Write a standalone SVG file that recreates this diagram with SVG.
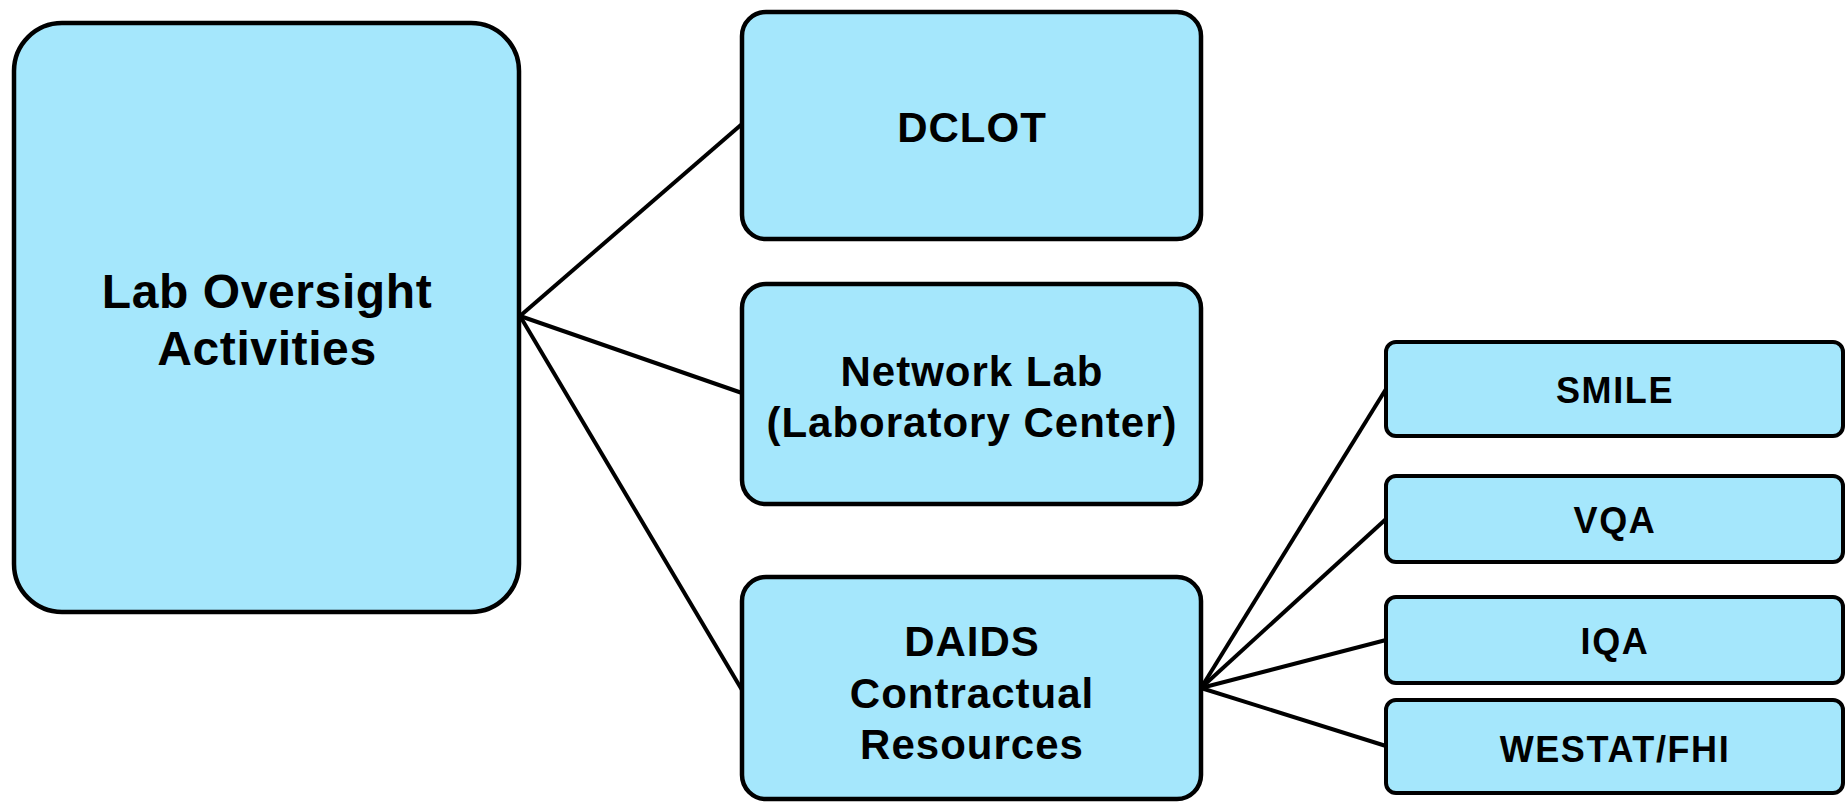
<svg xmlns="http://www.w3.org/2000/svg" width="1848" height="802" viewBox="0 0 1848 802">
<style>
.box{fill:#A5E7FC;stroke:#000;stroke-width:4.5}
.sbox{fill:#A5E7FC;stroke:#000;stroke-width:4}
.t{font-family:"Liberation Sans",Arial,sans-serif;font-weight:bold;fill:#000;text-anchor:middle}
.big{font-size:48px;letter-spacing:0.6px}
.mid{font-size:42px;letter-spacing:1px}
.sm{font-size:36px;letter-spacing:1.6px}
.c{stroke:#000;stroke-width:4;fill:none}
</style>
<rect width="1848" height="802" fill="#fff"/>
<g id="connectors">
<line class="c" x1="520" y1="316" x2="742" y2="124"/>
<line class="c" x1="520" y1="316" x2="742" y2="393"/>
<line class="c" x1="520" y1="316" x2="742" y2="690"/>
<line class="c" x1="1201" y1="688" x2="1386" y2="389"/>
<line class="c" x1="1201" y1="688" x2="1386" y2="519"/>
<line class="c" x1="1201" y1="688" x2="1386" y2="640"/>
<line class="c" x1="1201" y1="688" x2="1386" y2="746"/>
</g>
<g id="lab-oversight">
<rect class="box" x="14" y="23" width="505" height="589" rx="48" ry="48"/>
<text class="t big" x="267" y="308">Lab Oversight</text>
<text class="t big" x="267" y="365">Activities</text>
</g>
<g id="dclot">
<rect class="box" x="742" y="12" width="459" height="227" rx="24" ry="24"/>
<text class="t mid" x="972" y="142">DCLOT</text>
</g>
<g id="network-lab">
<rect class="box" x="742" y="284" width="459" height="220" rx="24" ry="24"/>
<text class="t mid" x="972" y="386">Network Lab</text>
<text class="t mid" x="972" y="437">(Laboratory Center)</text>
</g>
<g id="daids">
<rect class="box" x="742" y="577" width="459" height="222" rx="24" ry="24"/>
<text class="t mid" x="972" y="656">DAIDS</text>
<text class="t mid" x="972" y="708">Contractual</text>
<text class="t mid" x="972" y="759">Resources</text>
</g>
<g id="smile">
<rect class="sbox" x="1386" y="342" width="457" height="94" rx="10" ry="10"/>
<text class="t sm" x="1615" y="403">SMILE</text>
</g>
<g id="vqa">
<rect class="sbox" x="1386" y="476" width="457" height="86" rx="10" ry="10"/>
<text class="t sm" x="1615" y="533">VQA</text>
</g>
<g id="iqa">
<rect class="sbox" x="1386" y="597" width="457" height="86" rx="10" ry="10"/>
<text class="t sm" x="1615" y="654">IQA</text>
</g>
<g id="westat">
<rect class="sbox" x="1386" y="700" width="457" height="93" rx="10" ry="10"/>
<text class="t sm" x="1615" y="762">WESTAT/FHI</text>
</g>
</svg>
